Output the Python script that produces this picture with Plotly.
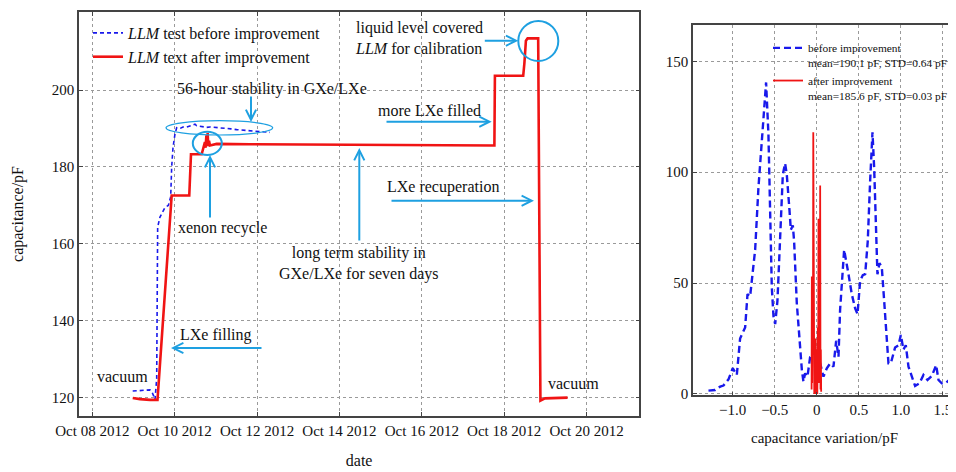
import plotly.graph_objects as go

# ---------------- left panel data (capacitance vs time) ----------------
before_time = [
    "2012-10-08 23:33", "2012-10-09 03:47", "2012-10-09 09:36", "2012-10-09 10:47",
    "2012-10-09 12:32", "2012-10-09 13:31", "2012-10-09 14:05", "2012-10-09 15:26",
    "2012-10-09 18:22", "2012-10-09 20:17", "2012-10-09 21:40", "2012-10-09 22:15",
    "2012-10-09 23:01", "2012-10-10 00:10", "2012-10-10 01:10", "2012-10-10 03:05",
    "2012-10-10 04:50", "2012-10-10 06:59", "2012-10-10 08:55", "2012-10-10 10:40",
    "2012-10-10 11:50", "2012-10-10 12:49", "2012-10-10 14:44", "2012-10-10 16:29",
    "2012-10-10 18:38", "2012-10-10 20:34", "2012-10-11 00:28", "2012-10-11 03:33",
    "2012-10-11 06:17", "2012-10-11 08:48", "2012-10-11 12:07", "2012-10-11 14:37",
    "2012-10-11 17:57", "2012-10-11 20:27", "2012-10-11 23:46", "2012-10-12 02:51",
    "2012-10-12 05:35", "2012-10-12 07:31",
]
before_cap = [
    121.8, 121.9, 122.1, 121.6,
    119.6, 125.0, 164.4, 167.0,
    169.5, 170.0, 172.2, 180.0,
    185.0, 188.6, 190.2, 190.0,
    190.4, 190.4, 190.6, 190.9,
    191.1, 190.7, 190.6, 190.4,
    190.3, 190.4, 190.3, 190.2,
    190.1, 189.9, 189.7, 189.6,
    189.5, 189.4, 189.2, 189.1,
    189.0, 189.0,
]

after_time = [
    "2012-10-08 23:33", "2012-10-09 03:47", "2012-10-09 09:36", "2012-10-09 13:06",
    "2012-10-09 13:59", "2012-10-09 18:44", "2012-10-09 22:15", "2012-10-10 08:30",
    "2012-10-10 09:30", "2012-10-10 15:43", "2012-10-10 16:40", "2012-10-10 17:38",
    "2012-10-10 18:00", "2012-10-10 18:29", "2012-10-10 18:49", "2012-10-10 19:13",
    "2012-10-10 19:34", "2012-10-10 20:00", "2012-10-10 20:34", "2012-10-11 00:27",
    "2012-10-11 19:52", "2012-10-13 01:00", "2012-10-14 06:07", "2012-10-15 11:14",
    "2012-10-16 16:22", "2012-10-17 17:25", "2012-10-17 18:17", "2012-10-17 18:35",
    "2012-10-18 11:04", "2012-10-18 11:46", "2012-10-18 12:39", "2012-10-18 13:38",
    "2012-10-18 19:48", "2012-10-18 21:06", "2012-10-18 23:43", "2012-10-19 12:56",
]
after_cap = [
    120.0, 119.7, 119.5, 119.4,
    119.5, 150.0, 172.6, 172.6,
    183.3, 183.3, 185.2, 186.5,
    185.0, 188.2, 186.2, 188.8,
    185.4, 186.8, 185.6, 186.0,
    185.9, 185.8, 185.7, 185.7,
    185.6, 185.6, 185.6, 203.7,
    203.7, 207.0, 212.8, 213.4,
    213.4, 119.3, 119.9, 120.1,
]

date_ticks = ["2012-10-08", "2012-10-10", "2012-10-12", "2012-10-14",
              "2012-10-16", "2012-10-18", "2012-10-20"]
date_tick_labels = ["Oct 08 2012", "Oct 10 2012", "Oct 12 2012", "Oct 14 2012",
                    "Oct 16 2012", "Oct 18 2012", "Oct 20 2012"]
cap_ticks = [120, 140, 160, 180, 200, 220]

# ---------------- right panel data (distribution of variation) ----------------
hist_before_x = [
    -1.288, -1.209, -1.149, -1.110, -1.050, -1.000, -0.951, -0.912, -0.852, -0.824,
    -0.793, -0.733, -0.694, -0.642, -0.603, -0.575, -0.555, -0.535, -0.515, -0.495,
    -0.468, -0.436, -0.404, -0.377, -0.357, -0.325, -0.309, -0.285, -0.270, -0.238,
    -0.206, -0.178, -0.159, -0.139, -0.111, -0.079, -0.048, -0.020, 0.008, 0.040,
    0.079, 0.119, 0.159, 0.198, 0.230, 0.258, 0.277, 0.325, 0.377, 0.416,
    0.456, 0.484, 0.515, 0.547, 0.575, 0.606, 0.634, 0.662, 0.682, 0.706,
    0.721, 0.745, 0.773, 0.801, 0.824, 0.852, 0.880, 0.931, 0.971, 0.999,
    1.030, 1.058, 1.090, 1.130, 1.169, 1.221, 1.268, 1.316, 1.367, 1.419,
    1.447, 1.486, 1.526, 1.577, 1.625, 1.655,
]
hist_before_y = [
    1.5, 1.8, 3.3, 3.8, 6.6, 11.6, 8.6, 25, 30, 45,
    44, 65, 93, 120, 140.5, 117, 87, 48, 35, 31.5,
    42, 72, 99, 104, 99, 83, 74, 76, 69, 41,
    24, 11, 5.6, 9.3, 7.8, 16.8, 18.3, 21, 16.8, 13.8,
    7.8, 11.6, 13.8, 12.3, 24, 16.8, 38, 65, 54, 45,
    38.6, 36, 51, 53.6, 54, 69, 96, 118, 102, 72,
    54, 59, 57, 42, 27, 13.8, 13.8, 21, 22, 26.6,
    20, 22, 12.3, 7.8, 3.6, 4.8, 8.6, 6.3, 8.1, 13,
    6.3, 4.8, 4.8, 6.3, 3.3, 4.0,
]
hist_after_x = [
    -0.062, -0.059, -0.055, -0.050, -0.046, -0.042, -0.038, -0.034, -0.030, -0.025,
    -0.020, -0.015, -0.010, -0.006, -0.002, 0.002, 0.006, 0.012, 0.016, 0.020,
    0.024, 0.030, 0.036, 0.040, 0.044, 0.048, 0.052,
]
hist_after_y = [
    2, 53, 5, 50, 20, 118, 10, 30, 0, 20,
    0, 25, 0, 18, 1, 20, 0, 30, 5, 79,
    15, 20, 5, 94, 2, 20, 1,
]
var_ticks = [-1.0, -0.5, 0, 0.5, 1.0, 1.5]
var_tick_labels = ["\u22121.0", "\u22120.5", "0", "0.5", "1.0", "1.5"]
count_ticks = [0, 50, 100, 150]

# ---------------- styling ----------------
OFF = 8                      # default page margin around the figure
SW, SH = 956, 472            # browser window
PLOT_L, PLOT_T, PLOT_B = 79, 12, 416   # plot area in window pixels
W, H = SW - OFF, SH - OFF
ML, MT, MB, MR = PLOT_L - OFF, PLOT_T - OFF, SH - PLOT_B, 0
PW, PH = W - ML - MR, H - MT - MB
FONT = "Liberation Serif"
BLUE = "rgb(25,25,235)"
RED = "rgb(240,20,20)"
CYAN = "rgb(30,160,225)"
GRID = "#9a9a9a"
AXC = "#444444"


def px(x):
    return (x - PLOT_L) / PW


def py(y):
    return (PLOT_B - y) / PH


fig = go.Figure()
fig.add_trace(go.Scatter(
    x=before_time, y=before_cap, mode="lines", name="<i>LLM</i> test before improvement",
    line=dict(color=BLUE, width=1.6, dash="4px,3px"), xaxis="x", yaxis="y", legend="legend"))
fig.add_trace(go.Scatter(
    x=after_time, y=after_cap, mode="lines", name="<i>LLM</i> text after improvement",
    line=dict(color=RED, width=2.6), xaxis="x", yaxis="y", legend="legend"))
fig.add_trace(go.Scatter(
    x=hist_before_x, y=hist_before_y, mode="lines",
    name="before improvement<br>mean=190.1 pF, STD=0.64 pF",
    line=dict(color=BLUE, width=2.4, dash="7px,4px"), xaxis="x2", yaxis="y2", legend="legend2"))
fig.add_trace(go.Scatter(
    x=hist_after_x, y=hist_after_y, mode="lines",
    name="after improvement<br>mean=185.6 pF, STD=0.03 pF",
    line=dict(color=RED, width=1.8), xaxis="x2", yaxis="y2", legend="legend2"))

axis_common = dict(showline=True, linecolor=AXC, linewidth=1.5, showgrid=True,
                   gridcolor=GRID, gridwidth=1, griddash="dot", zeroline=False,
                   ticks="inside", ticklen=4, tickcolor=AXC,
                   tickfont=dict(family=FONT, size=15, color="#111"))

annotations = []


def text(x, y, s, size=16, align="center", xanchor="center"):
    annotations.append(dict(x=px(x), y=py(y), xref="paper", yref="paper", text=s,
                            showarrow=False, align=align, xanchor=xanchor, yanchor="middle",
                            font=dict(family=FONT, size=size, color="#111")))


def arrow(x_tip, y_tip, x_tail, y_tail):
    annotations.append(dict(x=px(x_tip), y=py(y_tip), xref="paper", yref="paper", text="",
                            showarrow=True, ax=x_tail - x_tip, ay=y_tail - y_tip,
                            arrowhead=5, arrowsize=1, arrowwidth=2, arrowcolor=CYAN,
                            standoff=0, startstandoff=0))


text(271.5, 89, "56-hour stability in GXe/LXe")
arrow(251, 122, 251, 95)
text(222.7, 228.3, "xenon recycle")
arrow(210, 155, 210, 219)
text(353, 38, "liquid level covered<br><i>LLM</i> for calibration", align="left", xanchor="left")
arrow(518.3, 40.7, 483.3, 40.7)
text(429.5, 110, "more LXe filled")
arrow(491.7, 121.7, 385, 121.7)
text(443, 187.3, "LXe recuperation")
arrow(534, 200.7, 390, 200.7)
text(358.5, 263, "long term stability in<br>GXe/LXe for seven days")
arrow(359.3, 148, 359.3, 242)
text(216, 335, "LXe filling")
arrow(171, 348, 263, 348)
text(122.5, 376.5, "vacuum")
text(573.3, 383.3, "vacuum")

shapes = [
    dict(type="circle", xref="paper", yref="paper", x0=px(166), x1=px(272.7),
         y0=py(135), y1=py(120.7), line=dict(color=CYAN, width=1.2)),
    dict(type="circle", xref="paper", yref="paper", x0=px(192.8), x1=px(221.8),
         y0=py(155), y1=py(131.7), line=dict(color=CYAN, width=2)),
    dict(type="circle", xref="paper", yref="paper", x0=px(518.3), x1=px(558.3),
         y0=py(61), y1=py(21), line=dict(color=CYAN, width=2)),
]

fig.update_layout(
    width=W, height=H,
    margin=dict(l=ML, r=MR, t=MT, b=MB, autoexpand=False),
    paper_bgcolor="white", plot_bgcolor="white",
    font=dict(family=FONT, size=15, color="#111"),
    xaxis=dict(axis_common, domain=[0, px(639.3)], type="date",
               range=["2012-10-07 16:15", "2012-10-21 06:43"],
               tickvals=date_ticks, ticktext=date_tick_labels, mirror="all",
               title=dict(text="date", font=dict(family=FONT, size=16), standoff=17),
               anchor="y"),
    yaxis=dict(axis_common, domain=[0, 1], range=[115.32, 220.26],
               tickvals=cap_ticks, mirror="all",
               title=dict(text="capacitance/pF", font=dict(family=FONT, size=16), standoff=24),
               anchor="x"),
    xaxis2=dict(axis_common, domain=[px(693), 1], range=[-1.472, 1.655],
                tickvals=var_ticks, ticktext=var_tick_labels, mirror=True,
                title=dict(text="capacitance variation/pF", font=dict(family=FONT, size=15), standoff=15),
                anchor="y2"),
    yaxis2=dict(axis_common, domain=[py(395.3), py(25)], range=[-0.6, 166.4],
                tickvals=count_ticks, anchor="x2"),
    legend=dict(x=px(88), y=py(16), xanchor="left", yanchor="top",
                bgcolor="rgba(0,0,0,0)", font=dict(family=FONT, size=16, color="#111"),
                itemwidth=30, tracegroupgap=0),
    legend2=dict(x=px(768), y=py(34), xanchor="left", yanchor="top",
                 bgcolor="rgba(0,0,0,0)", font=dict(family=FONT, size=11.4, color="#111"),
                 itemwidth=30, valign="top", tracegroupgap=0),
    annotations=annotations,
    shapes=shapes,
    showlegend=True,
)

fig.write_html("out.html")
